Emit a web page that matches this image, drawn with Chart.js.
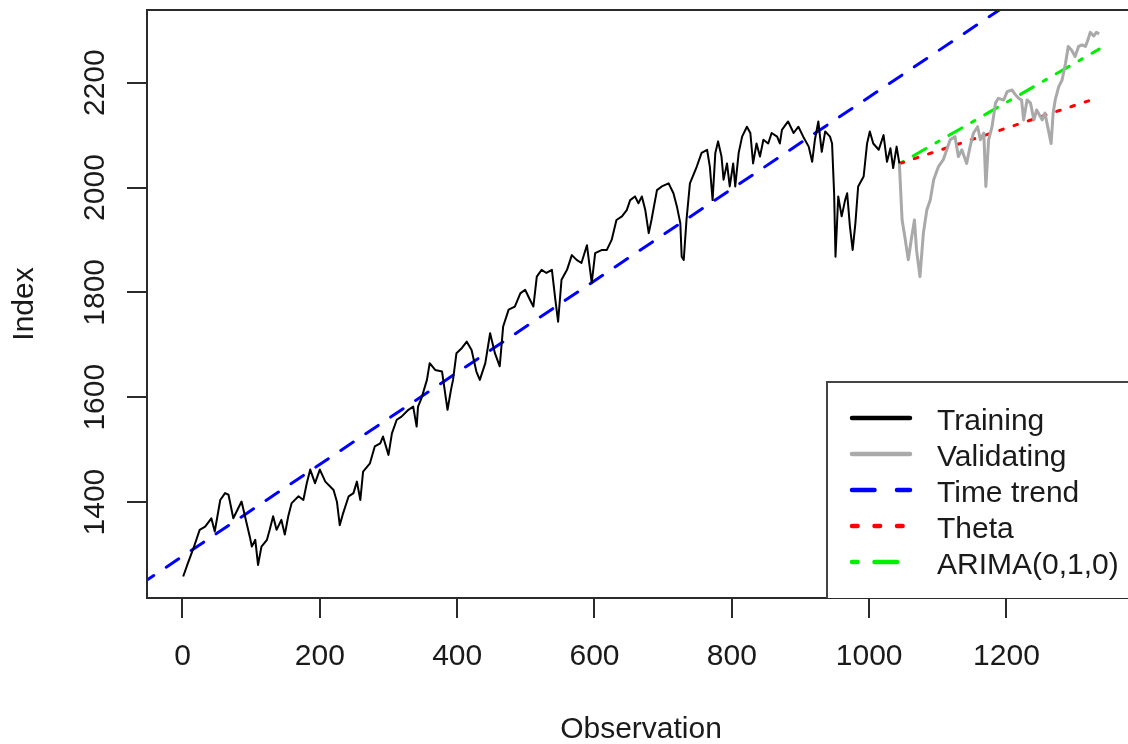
<!DOCTYPE html>
<html>
<head>
<meta charset="utf-8">
<script src="https://cdn.jsdelivr.net/npm/chart.js@4"></script>
<style>
  body { margin: 0; background: #fff; }
  canvas { display: block; }
</style>
</head>
<body>
<canvas id="grafico" width="1128" height="744"></canvas>
<script>
// valores
const trainObs = [1, 8, 16, 25, 33, 42, 47, 55, 62, 67, 74, 86, 91, 98, 101, 106, 110, 115, 123, 127, 132, 137, 144, 149, 154, 159, 169, 176, 181, 186, 193, 200,
    208, 220, 225, 229, 234, 242, 249, 254, 259, 263, 273, 280, 288, 292, 300, 305, 312, 319, 329, 336, 341, 343, 348, 356, 360, 368, 378, 386, 391, 394, 399,
    407, 414, 421, 428, 433, 441, 448, 455, 462, 467, 475, 484, 492, 499, 506, 511, 516, 523, 530, 538, 543, 547, 552, 560, 567, 574, 581, 589, 596, 601,
    611, 618, 625, 632, 640, 647, 652, 659, 664, 669, 674, 679, 683, 691, 698, 708, 715, 720, 725, 727, 730, 734, 739, 749, 756, 764, 768, 772, 776, 780,
    785, 788, 793, 797, 802, 805, 810, 815, 822, 827, 831, 836, 841, 846, 853, 858, 866, 870, 873, 878, 882, 890, 897, 904, 912, 917, 921, 926, 931, 936,
    943, 946, 949, 951, 955, 960, 965, 968, 972, 976, 980, 984, 992, 997, 1001, 1006, 1014, 1021, 1026, 1031, 1035, 1040, 1044];
const trainVal = [1258, 1284, 1312, 1347, 1353, 1369, 1344, 1404, 1417, 1414, 1369, 1401, 1373, 1334, 1315, 1328, 1280, 1315, 1328, 1347, 1373, 1347, 1366, 1338, 1373, 1398, 1411, 1404, 1436, 1462, 1436, 1462,
    1439, 1423, 1400, 1356, 1379, 1411, 1417, 1439, 1404, 1458, 1474, 1506, 1512, 1525, 1490, 1531, 1557, 1563, 1576, 1582, 1544, 1582, 1598, 1633, 1665, 1652, 1649, 1576, 1614, 1633, 1684,
    1694, 1706, 1690, 1649, 1633, 1665, 1722, 1684, 1659, 1735, 1767, 1773, 1798, 1805, 1786, 1773, 1830, 1843, 1837, 1843, 1786, 1744, 1824, 1843, 1871, 1862, 1856, 1890, 1818, 1875,
    1881, 1881, 1900, 1938, 1945, 1957, 1976, 1983, 1970, 1983, 1957, 1913, 1938, 1995, 2002, 2008, 1989, 1964, 1932, 1868, 1862, 1938, 2008, 2040, 2066, 2072, 2040, 1976, 2066, 2088,
    2059, 2015, 2046, 2002, 2046, 2002, 2066, 2097, 2116, 2104, 2046, 2084, 2059, 2091, 2084, 2104, 2097, 2084, 2110, 2119, 2126, 2104, 2116, 2097, 2078, 2049, 2091, 2126, 2068, 2107,
    2097, 2084, 1989, 1868, 1983, 1945, 1976, 1989, 1926, 1881, 1932, 2002, 2021, 2084, 2107, 2084, 2072, 2100, 2049, 2075, 2037, 2078, 2046];

const validObs = [1044, 1048, 1052, 1057, 1062, 1066, 1069, 1074, 1079, 1084, 1089, 1094, 1101, 1108, 1113, 1118, 1125, 1130, 1135, 1142, 1147, 1152, 1158, 1162, 1167, 1170,
    1174, 1179, 1184, 1188, 1196, 1201, 1208, 1213, 1218, 1222, 1225, 1230, 1235, 1240, 1244, 1252, 1256, 1261, 1265, 1268, 1271, 1276, 1281, 1286, 1290, 1295, 1300,
    1305, 1310, 1315, 1319, 1322, 1327, 1331, 1335];
const validVal = [2046, 1938, 1906, 1862, 1906, 1938, 1881, 1830, 1913, 1957, 1976, 2015, 2040, 2053, 2072, 2091, 2097, 2059, 2072, 2046, 2078, 2104, 2116, 2091, 2104, 2002,
    2091, 2116, 2161, 2170, 2167, 2183, 2186, 2177, 2170, 2167, 2129, 2167, 2161, 2129, 2148, 2129, 2142, 2110, 2084, 2142, 2167, 2192, 2205, 2237, 2269, 2262, 2250,
    2269, 2272, 2269, 2283, 2296, 2289, 2296, 2293];

const trendObs = [-60, 1400];
const trendVal = [1244, 2523];
const thetaObs = [1045, 1335];
const thetaVal = [2046, 2172];
const arimaObs = [1045, 1335];
const arimaVal = [2046, 2264];

const xTicks = [0, 200, 400, 600, 800, 1000, 1200];
const yTicks = [1400, 1600, 1800, 2000, 2200];

const fonte = '30px "Liberation Sans", Arial, Helvetica, sans-serif';
const corTexto = '#1a1a1a';
const corEixo = '#2b2b2b';

function pontos(xs, ys) {
    return xs.map((x, i) => ({ x: x, y: ys[i] }));
}

const legendaItens = [
    { texto: 'Training', cor: '#000000', dash: [] },
    { texto: 'Validating', cor: '#aaaaaa', dash: [] },
    { texto: 'Time trend', cor: '#0000ff', dash: [22.5, 22.5] },
    { texto: 'Theta', cor: '#ff0000', dash: [5.6, 16.9] },
    { texto: 'ARIMA(0,1,0)', cor: '#00ee00', dash: [5.6, 16.9, 22.5, 16.9] }
];

const desenhoExtra = {
    id: 'desenhoExtra',
    afterDraw(chart) {
        const ctx = chart.ctx;
        const area = chart.chartArea;
        const x = chart.scales.x;
        const y = chart.scales.y;

        ctx.save();
        // caixa do grafico (lado direito cortado)
        ctx.strokeStyle = corEixo;
        ctx.lineWidth = 2;
        ctx.beginPath();
        ctx.moveTo(area.right + 20, area.top);
        ctx.lineTo(area.left, area.top);
        ctx.lineTo(area.left, area.bottom);
        ctx.lineTo(area.right + 20, area.bottom);
        ctx.stroke();

        ctx.fillStyle = corTexto;
        ctx.font = fonte;

        // rotulos do eixo x
        ctx.textAlign = 'center';
        ctx.textBaseline = 'alphabetic';
        xTicks.forEach(v => ctx.fillText(String(v), x.getPixelForValue(v), 665));
        ctx.fillText('Observation', (area.left + area.right + 7) / 2, 738);

        // rotulos do eixo y (girados)
        yTicks.forEach(v => {
            ctx.save();
            ctx.translate(104, y.getPixelForValue(v));
            ctx.rotate(-Math.PI / 2);
            ctx.fillText(String(v), 0, 0);
            ctx.restore();
        });
        ctx.save();
        ctx.translate(33, (area.top + area.bottom) / 2);
        ctx.rotate(-Math.PI / 2);
        ctx.fillText('Index', 0, 0);
        ctx.restore();

        // legenda
        const lx = 827, ly = 382;
        ctx.fillStyle = '#ffffff';
        ctx.fillRect(lx, ly, 400, area.bottom - ly);
        ctx.strokeStyle = '#444444';
        ctx.lineWidth = 2;
        ctx.beginPath();
        ctx.moveTo(1140, ly);
        ctx.lineTo(lx, ly);
        ctx.lineTo(lx, area.bottom);
        ctx.stroke();

        ctx.textAlign = 'left';
        legendaItens.forEach((item, i) => {
            const base = 430 + i * 36;
            ctx.strokeStyle = item.cor;
            ctx.lineWidth = 4.5;
            ctx.lineCap = 'round';
            ctx.setLineDash(item.dash);
            ctx.beginPath();
            ctx.moveTo(852, base - 12);
            ctx.lineTo(910, base - 12);
            ctx.stroke();
            ctx.setLineDash([]);
            ctx.fillStyle = corTexto;
            ctx.fillText(item.texto, 937, base);
        });
        ctx.restore();
    }
};

function criarGrafico() {
    const ctx = document.getElementById('grafico').getContext('2d');

    new Chart(ctx, {
        type: 'line',
        data: {
            datasets: [
                {
                    label: 'Training',
                    data: pontos(trainObs, trainVal),
                    borderColor: '#000000',
                    borderWidth: 2,
                    borderJoinStyle: 'round'
                },
                {
                    label: 'Validating',
                    data: pontos(validObs, validVal),
                    borderColor: '#a9a9a9',
                    borderWidth: 3,
                    borderJoinStyle: 'round'
                },
                {
                    label: 'Time trend',
                    data: pontos(trendObs, trendVal),
                    borderColor: '#0000ff',
                    borderWidth: 3,
                    borderDash: [15, 15],
                    borderCapStyle: 'round'
                },
                {
                    label: 'Theta',
                    data: pontos(thetaObs, thetaVal),
                    borderColor: '#ff0000',
                    borderWidth: 3,
                    borderDash: [3.75, 11.25],
                    borderCapStyle: 'round'
                },
                {
                    label: 'ARIMA(0,1,0)',
                    data: pontos(arimaObs, arimaVal),
                    borderColor: '#00ee00',
                    borderWidth: 3,
                    borderDash: [3.75, 11.25, 15, 11.25],
                    borderCapStyle: 'round'
                }
            ]
        },
        options: {
            responsive: false,
            animation: false,
            devicePixelRatio: 1,
            layout: { padding: { top: 10, left: 0, right: 0, bottom: 0 } },
            elements: {
                point: { radius: 0 },
                line: { tension: 0, fill: false }
            },
            plugins: {
                legend: { display: false },
                tooltip: { enabled: false }
            },
            scales: {
                x: {
                    type: 'linear',
                    bounds: 'data',
                    min: -51.7,
                    max: 1377,
                    afterBuildTicks: axis => { axis.ticks = xTicks.map(v => ({ value: v })); },
                    afterFit: axis => { axis.height = 146; },
                    ticks: { display: false },
                    grid: { drawOnChartArea: false, drawTicks: true, tickLength: 20, color: corEixo, lineWidth: 2 },
                    border: { display: false }
                },
                y: {
                    type: 'linear',
                    bounds: 'data',
                    min: 1217,
                    max: 2338.6,
                    afterBuildTicks: axis => { axis.ticks = yTicks.map(v => ({ value: v })); },
                    afterFit: axis => { axis.width = 147; },
                    ticks: { display: false },
                    grid: { drawOnChartArea: false, drawTicks: true, tickLength: 20, color: corEixo, lineWidth: 2 },
                    border: { display: false }
                }
            }
        },
        plugins: [desenhoExtra]
    });
}

window.addEventListener('DOMContentLoaded', criarGrafico);
</script>
</body>
</html>
